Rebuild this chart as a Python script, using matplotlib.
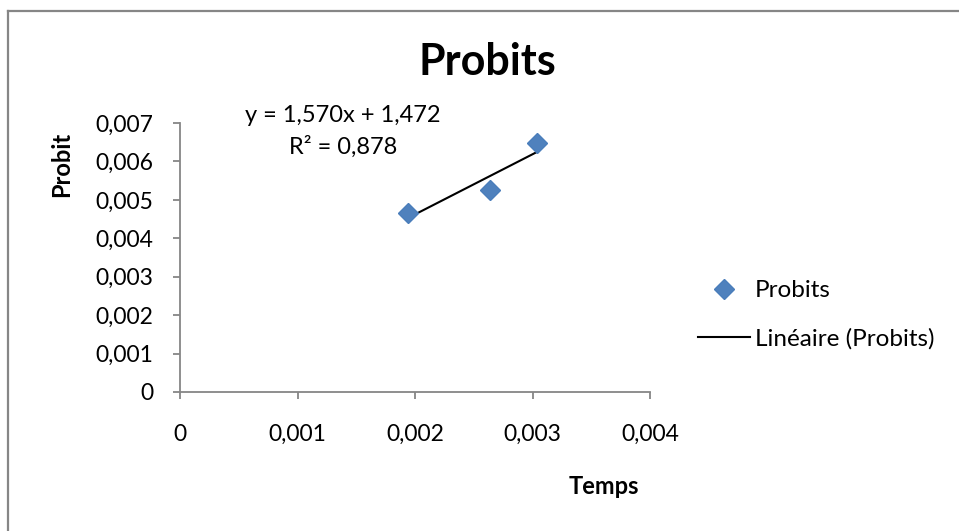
import matplotlib
matplotlib.use("Agg")
import matplotlib.pyplot as plt
import numpy as np
from matplotlib.lines import Line2D
from matplotlib.ticker import FuncFormatter

# Data
temps = [0.00194, 0.00264, 0.00304]
probit = [0.00466, 0.00526, 0.00648]
x_ticks = [0, 0.001, 0.002, 0.003, 0.004]
y_ticks = [0, 0.001, 0.002, 0.003, 0.004, 0.005, 0.006, 0.007]
title = "Probits"
eq_text = "y = 1,570x + 1,472"
r2_text = "R² = 0,878"

plt.rcParams['font.family'] = ['Lato', 'DejaVu Sans']

W, H = 959, 531
fig = plt.figure(figsize=(W / 100, H / 100), dpi=100)
fig.patch.set_facecolor('white')

# Outer frame (top and left lines visible)
gray = '#868686'
fig.add_artist(Line2D([8 / W, 1.0], [1 - 11 / H, 1 - 11 / H], color=gray, lw=1.6, transform=fig.transFigure))
fig.add_artist(Line2D([8 / W, 8 / W], [0.0, 1 - 11 / H], color=gray, lw=1.6, transform=fig.transFigure))

x0, x1 = 180, 650
y0, y1 = 123, 392
ax = fig.add_axes([x0 / W, 1 - y1 / H, (x1 - x0) / W, (y1 - y0) / H])
ax.set_xlim(0, 0.004)
ax.set_ylim(0, 0.007)
ax.set_xticks(x_ticks)
ax.set_yticks(y_ticks)

def fmt(v, pos):
    if abs(v) < 1e-12:
        return "0"
    return ("%.3f" % v).replace('.', ',')

ax.xaxis.set_major_formatter(FuncFormatter(fmt))
ax.yaxis.set_major_formatter(FuncFormatter(fmt))

for s in ['top', 'right']:
    ax.spines[s].set_visible(False)
for s in ['left', 'bottom']:
    ax.spines[s].set_color(gray)
    ax.spines[s].set_linewidth(1.3)
ax.tick_params(axis='both', direction='out', length=5, width=1.3, color=gray,
               labelsize=16.5, labelcolor='black')
ax.tick_params(axis='x', pad=18)
ax.tick_params(axis='y', pad=14)

# Scatter
ax.plot(temps, probit, linestyle='none', marker='D', markersize=10,
        color='#4F81BD', markeredgecolor='#4A7EBB', label='Probits', zorder=3)

# Linear trendline
coef = np.polyfit(temps, probit, 1)
xs = np.array([min(temps), max(temps)])
ax.plot(xs, np.polyval(coef, xs), color='black', lw=1.5, label='Linéaire (Probits)', zorder=2)

# Texts
fig.text(487 / W, 1 - 62 / H, title, ha='center', va='center', fontsize=31, fontweight='bold')
fig.text(343 / W, 1 - 115 / H, eq_text, ha='center', va='center', fontsize=17)
fig.text(343 / W, 1 - 147 / H, r2_text, ha='center', va='center', fontsize=17)
fig.text(62 / W, 1 - 164 / H, "Probit", ha='center', va='center', rotation=90, fontsize=17, fontweight='bold')
fig.text(604 / W, 1 - 487 / H, "Temps", ha='center', va='center', fontsize=17, fontweight='bold')

# Legend
leg = fig.legend(loc='center left', bbox_to_anchor=(698 / W, 1 - 315 / H), frameon=False,
                 fontsize=17.5, handlelength=2.14, handletextpad=0.2, labelspacing=1.1,
                 borderaxespad=0, borderpad=0)

fig.savefig("out.png", dpi=100, facecolor='white')
